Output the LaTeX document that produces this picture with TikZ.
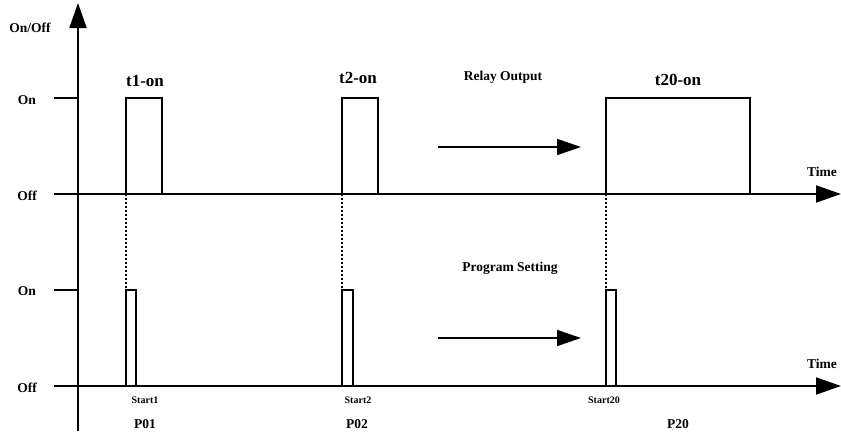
\documentclass[tikz,border=0pt]{standalone}
\usepackage{fontspec}
\setmainfont{Liberation Serif}
\usetikzlibrary{arrows.meta}
\tikzset{
  axis/.style={line width=1.9pt,-{Triangle[length=25pt,width=17pt]}},
  flow/.style={line width=1.7pt,-{Triangle[length=24pt,width=16pt]}},
  pulse/.style={line width=1.6pt},
  guide/.style={line width=1.8pt,dash pattern=on 2pt off 2pt},
  lbl/.style={font=\fontsize{13.5}{14}\selectfont\bfseries,inner sep=0pt},
  big/.style={font=\fontsize{17}{18}\selectfont\bfseries,inner sep=0pt},
  tiny/.style={font=\fontsize{10}{11}\selectfont\bfseries,inner sep=0pt},
}
\begin{document}
\begin{tikzpicture}[x=1pt,y=-1pt]
\useasboundingbox (0,0) rectangle (841,439);
% axes
\coordinate (vb) at (78,431);
\coordinate (vt) at (78,3);
\draw[axis] (vb) -- (vt);
\coordinate (a1s) at (54,194);
\coordinate (a1e) at (841,194);
\draw[axis] (a1s) -- (a1e);
\coordinate (a2s) at (54,386);
\coordinate (a2e) at (841,386);
\draw[axis] (a2s) -- (a2e);
% on ticks
\draw[pulse] (54,98) -- (78,98);
\draw[pulse] (54,290) -- (78,290);
% labels left
\node[lbl] (onoff) at (30,28) {On/Off};
\node[lbl] (on1) at (27,100) {On};
\node[lbl] (off1) at (27,196) {Off};
\node[lbl] (on2) at (27,291) {On};
\node[lbl] (off2) at (27,388) {Off};
% relay pulses
\draw[pulse] (126,194) -- (126,98) -- (162,98) -- (162,194);
\draw[pulse] (342,194) -- (342,98) -- (378,98) -- (378,194);
\draw[pulse] (606,194) -- (606,98) -- (750,98) -- (750,194);
\node[big] (t1) at (145,81) {t1-on};
\node[big] (t2) at (358,78) {t2-on};
\node[big] (t20) at (678,80) {t20-on};
\node[lbl] (relay) at (503,77) {Relay Output};
\coordinate (r1) at (438,147);
\coordinate (r2) at (581,147);
\draw[flow] (r1) -- (r2);
\node[lbl] (time1) at (822,172) {Time};
% guides
\draw[guide] (126,194) -- (126,290);
\draw[guide] (342,194) -- (342,290);
\draw[guide] (606,194) -- (606,290);
% program pulses
\draw[pulse] (126,386) -- (126,290) -- (136,290) -- (136,386);
\draw[pulse] (342,386) -- (342,290) -- (353,290) -- (353,386);
\draw[pulse] (606,386) -- (606,290) -- (616,290) -- (616,386);
\node[lbl] (prog) at (510,268) {Program Setting};
\coordinate (p1) at (438,338);
\coordinate (p2) at (581,338);
\draw[flow] (p1) -- (p2);
\node[lbl] (time2) at (822,364) {Time};
% bottom labels
\node[tiny] (s1) at (145,400) {Start1};
\node[tiny] (s2) at (358,400) {Start2};
\node[tiny] (s20) at (604,400) {Start20};
\node[lbl] (P01) at (145,424) {P01};
\node[lbl] (P02) at (357,424) {P02};
\node[lbl] (P20) at (678,424) {P20};
\end{tikzpicture}
\end{document}
